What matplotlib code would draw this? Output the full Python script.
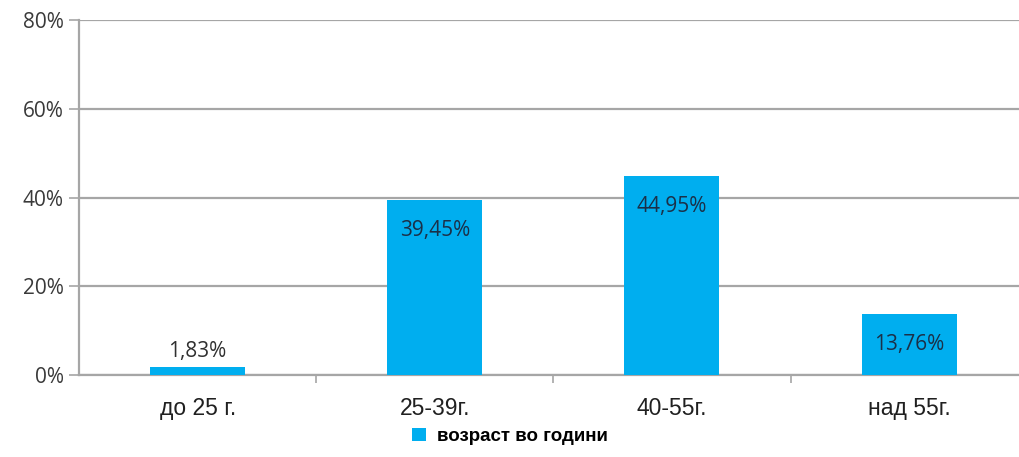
import matplotlib.pyplot as plt
from matplotlib.patches import Patch

# age groups and their share
categories = ["до 25 г.", "25-39г.", "40-55г.", "над 55г."]
values = [1.83, 39.45, 44.95, 13.76]
value_labels = ["1,83%", "39,45%", "44,95%", "13,76%"]
yticks = [0, 20, 40, 60, 80]
legend_label = "возраст во години"

bar_color = "#00AEEF"
grid_color = "#A6A6A6"
label_color = "#1B3048"

plt.rcParams["font.family"] = ["Open Sans", "DejaVu Sans"]

fig = plt.figure(figsize=(10.2, 4.57), dpi=100)
ax = fig.add_axes([0.0775, 0.179, 0.93, 0.777])

x = list(range(len(categories)))
bars = ax.bar(x, values, width=0.4, color=bar_color, zorder=3)

ax.set_xlim(-0.5, len(categories) - 0.5)
ax.set_ylim(0, 80)
ax.set_yticks(yticks)
ax.set_yticklabels([f"{t}%" for t in yticks], fontsize=15, color="#3A3A3A")
ax.yaxis.grid(True, color=grid_color, linewidth=1.6, zorder=0)
ax.tick_params(axis="y", length=7, width=1.2, color=grid_color, pad=4)

# category labels centred under bars, ticks on the boundaries
ax.set_xticks(x)
ax.set_xticklabels(categories, fontsize=16.5, color="#202020",
                   fontfamily=["Liberation Sans", "DejaVu Sans"])
ax.tick_params(axis="x", length=0, pad=16)
ax.set_xticks([i + 0.5 for i in x[:-1]], minor=True)
ax.tick_params(axis="x", which="minor", length=6, width=1.2, color=grid_color)

for side in ["top", "right"]:
    ax.spines[side].set_visible(False)
ax.spines["left"].set_color(grid_color)
ax.spines["left"].set_linewidth(1.6)
ax.spines["bottom"].set_color(grid_color)
ax.spines["bottom"].set_linewidth(1.6)

# value labels: inside the bar near its top, above it when the bar is short
for b, v, lab in zip(bars, values, value_labels):
    cx = b.get_x() + b.get_width() / 2
    if v < 5:
        ax.annotate(lab, (cx, v), xytext=(0, 4), textcoords="offset points",
                    ha="center", va="bottom", fontsize=15, color="#303030")
    else:
        ax.annotate(lab, (cx, v), xytext=(0, -22), textcoords="offset points",
                    ha="center", va="center", fontsize=15, color=label_color, zorder=4)

handle = Patch(facecolor=bar_color, edgecolor="none")
fig.legend([handle], [legend_label], loc="center", bbox_to_anchor=(0.5, 0.045),
           frameon=False, handlelength=0.7, handleheight=0.7, handletextpad=0.6,
           prop={"family": ["Liberation Sans", "DejaVu Sans"], "size": 13.5, "weight": "bold"})

fig.savefig("out.png", dpi=100)
